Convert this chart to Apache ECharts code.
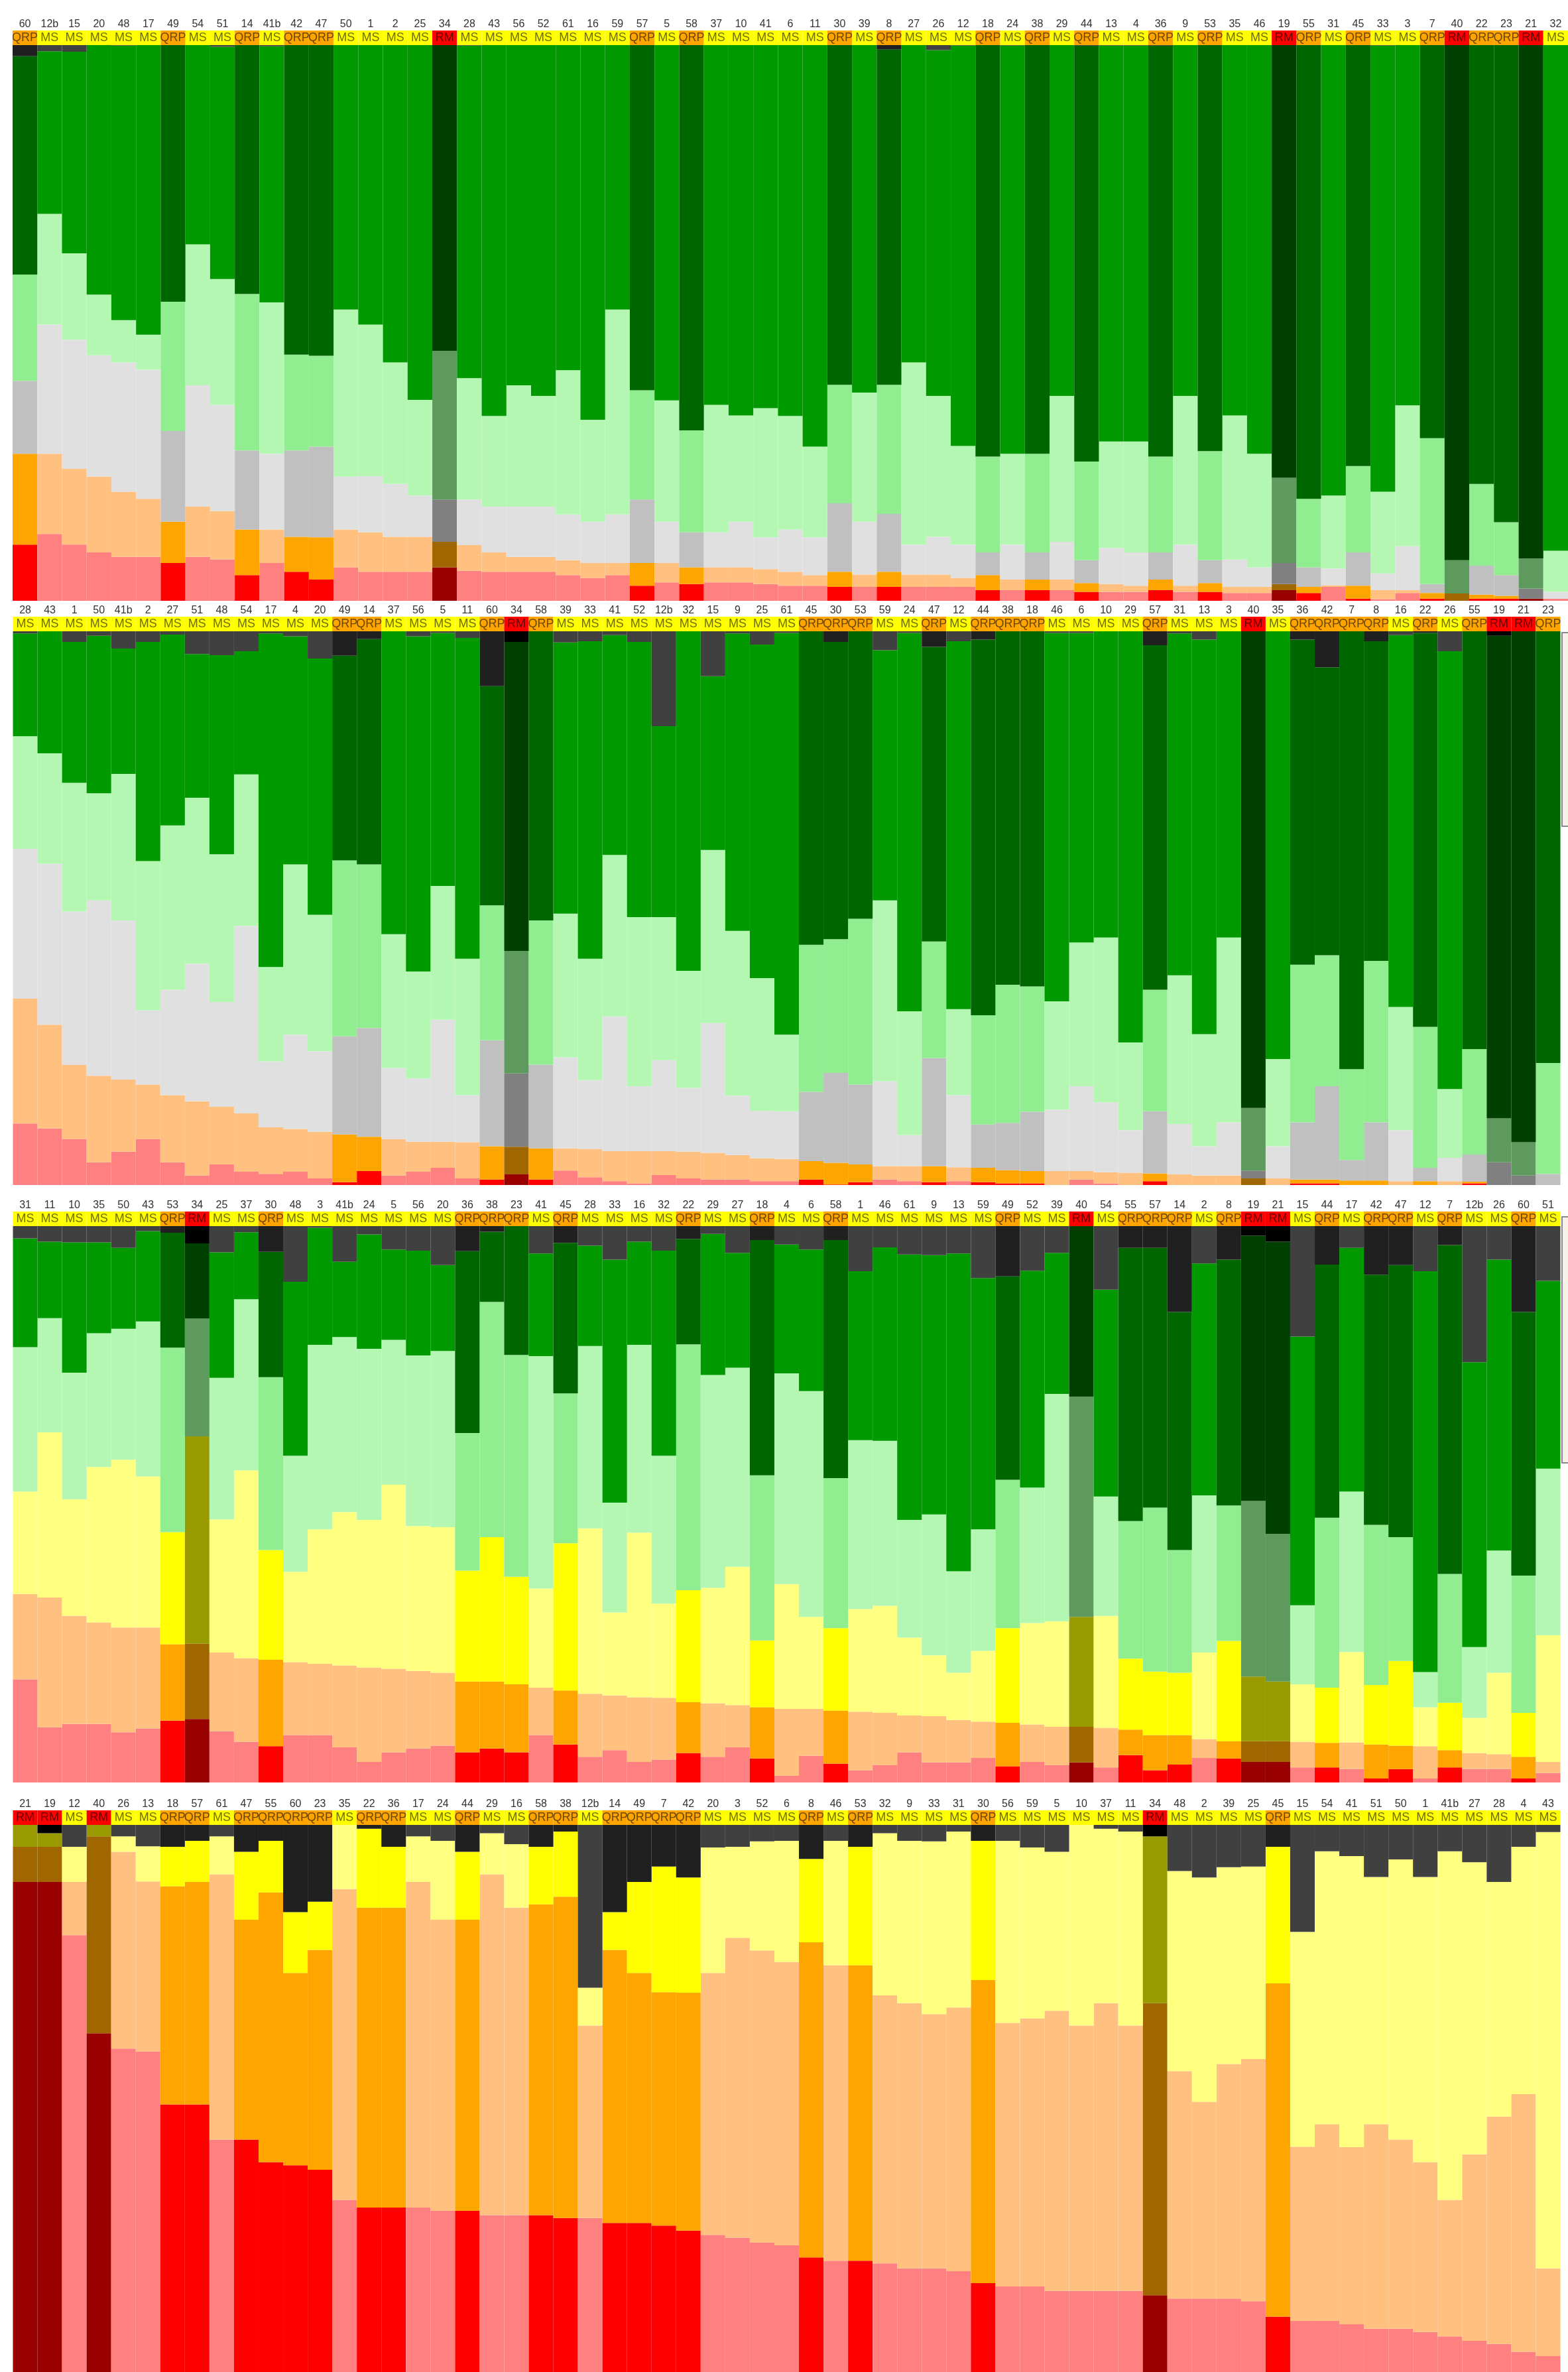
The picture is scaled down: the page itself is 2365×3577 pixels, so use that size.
<!DOCTYPE html>
<html>
<head>
<meta charset="utf-8">
<script src="https://cdn.jsdelivr.net/npm/echarts@6.0.0/dist/echarts.min.js"></script>
<style>
  html, body { margin: 0; padding: 0; background: #fff; }
  #chart { width: 2365px; height: 3577px; }
</style>
</head>
<body>
<div id="chart"></div>
<script>
// which items are QRP / RM, everything else is MS
const qrpItems = ['60','49','14','42','47','57','58','30','8','18','38','44','36','53','55','45','7','22','23'];
const rmItems = ['34','19','21','40'];

// ---- panel 1 (red / orange / gray / light green / green / no answer)
const p1Labels = ['60','12b','15','20','48','17','49','54','51','14','41b','42','47','50','1','2','25','34','28','43','56','52','61','16','59','57','5','58','37','10','41','6','11','30','39','8','27','26','12','18','24','38','29','44','13','4','36','9','53','35','46','19','55','31','45','33','3','7','40','22','23','21','32'];
const p1Red    = [10.1,12.0,10.1,8.7,7.9,7.9,6.8,7.9,7.4,4.6, 6.8,5.2,3.8,6.0,5.2,5.2,5.2,6.0,5.4,5.2, 5.2,5.2,4.6,4.1,4.6,2.7,3.3,3.0,3.3,3.3, 3.0,2.7,2.7,2.5,2.5,2.5,2.5,2.5,2.5,1.9, 1.9,1.9,1.9,1.6,1.6,1.6,1.9,1.6,1.6,1.4, 1.4,1.9,1.4,2.5,0.4,0.3,1.4,0.4,0,0.4, 0.4,0.4,0.4];
const p1Orange = [16.3,14.4,13.6,13.6,11.7,10.4,7.4,9.0,8.7,8.2, 6.0,6.3,7.6,6.8,7.1,6.3,6.3,4.6,4.6,3.5, 2.7,2.7,2.7,2.7,2.2,4.1,3.5,3.0,2.7,2.7, 2.7,2.5,1.9,2.7,2.2,2.7,2.2,2.2,1.6,2.7, 1.9,1.9,1.9,1.6,1.4,1.1,1.9,1.1,1.6,1.1, 1.1,1.1,1.1,0.3,2.3,1.6,0.5,1.0,1.3,0.7, 0.5,0,0];
const p1Gray   = [13.1,23.2,23.2,21.8,23.2,23.2,16.3,21.8,19.1,14.2, 13.6,15.5,16.3,9.5,10.1,9.5,7.4,7.6,8.2,8.2, 9.0,9.0,8.2,7.4,8.7,11.4,7.4,6.3,6.3,8.2, 5.7,7.6,6.8,12.3,9.5,10.4,5.4,6.8,6.0,4.1, 6.3,4.9,6.8,4.1,6.5,6.0,4.9,7.4,4.1,4.9, 3.5,3.8,3.5,3.0,6.0,3.0,7.9,1.6,0,5.2, 3.7,1.8,1.2];
const p1Light  = [19.1,19.9,15.5,10.9,7.6,6.3,23.2,25.3,22.6,28.1, 27.2,17.2,16.3,30.0,27.2,21.8,17.2,26.7,21.8,16.3, 21.8,19.9,25.9,18.3,36.8,19.6,21.8,18.3,22.9,19.1, 23.2,20.4,16.3,21.3,23.2,23.2,32.7,25.3,17.7,17.2, 16.3,17.7,26.2,17.7,19.1,19.9,17.2,26.7,19.6,25.9, 20.4,15.3,12.3,13.1,15.5,14.7,25.3,26.2,6.0,14.7, 9.5,5.4,7.4];
const p1Green  = [39.2,29.2,36.2,45.0,49.3,52.3,46.3,36.0,41.7,45.0, 46.0,55.9,55.9,47.7,50.4,57.2,64.0,55.0,59.7,66.8, 61.3,63.2,58.6,67.3,47.7,62.1,63.8,69.5,64.9,66.8, 65.4,66.8,72.2,61.3,62.4,60.2,57.2,62.1,71.9,74.1, 73.3,73.6,63.2,74.7,71.1,71.1,73.8,63.2,73.0,66.8, 73.6,77.9,81.7,81.2,75.7,80.1,64.9,70.8,92.9,79.0, 85.8,92.4,91.0];
const p1Top    = [2.2,1.4,1.4,0,0.3,0,0,0,0.5,0, 0.3,0,0,0,0,0,0,0,0.3,0, 0,0,0,0.3,0,0,0.3,0,0,0, 0,0,0,0,0.3,1.1,0,1.1,0.3,0, 0.3,0,0,0.3,0.3,0.3,0.3,0.3,0,0, 0,0,0,0,0,0.3,0,0,0,0, 0,0,0];

// ---- panel 2
const p2Labels = ['28','43','1','50','41b','2','27','51','48','54','17','4','20','49','14','37','56','5','11','60','34','58','39','33','41','52','12b','32','15','9','25','61','45','30','53','59','24','47','12','44','38','18','46','6','10','29','57','31','13','3','40','35','36','42','7','8','16','22','26','55','19','21','23'];
const p2Red    = [11.1,10.2,8.3,4.1,6.0,8.3,4.1,1.7,3.7,2.4, 2.0,2.4,1.2,0.5,2.5,1.7,2.4,3.1,1.2,1.0, 1.9,1.0,2.6,1.4,0.7,0.3,1.8,1.2,1.0,1.0, 0.7,0.7,1.0,0.1,0.5,1.0,0.7,0.5,0.7,0.5, 0.3,0.3,0,1.0,0.3,0,0.7,0,0,0, 0,0,0.3,0.3,0,0,0,0,0,0.3, 0,0,0];
const p2Orange = [22.5,18.7,13.4,15.6,13.0,9.8,12.1,13.4,10.4,10.5, 8.4,7.7,8.4,8.6,6.2,6.6,5.4,4.7,6.5,6.0, 5.0,5.6,4.0,5.1,5.4,5.8,4.3,4.8,4.8,4.4, 4.1,4.0,3.3,3.9,3.2,2.4,2.7,2.9,2.5,2.6, 2.4,2.2,2.5,1.5,2.0,2.2,1.4,1.9,1.7,1.7, 1.2,1.2,0.7,0.7,0.8,0.8,0.7,0.7,0.7,0.3, 0,0,0];
const p2Gray   = [27.0,29.0,27.6,31.6,28.7,13.4,19.0,24.8,18.9,33.8, 11.9,17.0,14.5,17.7,19.6,12.8,11.4,22.0,8.5,19.1, 13.2,15.1,16.4,12.4,24.3,11.7,16.4,11.5,23.4,10.7, 8.6,8.6,12.5,16.2,14.4,15.3,5.6,19.5,13.0,7.8, 8.5,10.7,11.1,15.3,12.6,7.7,11.2,9.1,5.3,9.6, 1.4,5.8,10.3,16.8,3.7,10.5,9.2,2.4,4.2,4.9, 4.1,1.7,2.0];
const p2Light  = [20.3,19.9,23.2,19.3,26.4,26.9,29.6,29.9,26.6,27.3, 17.0,30.7,24.6,31.7,29.5,24.1,19.3,24.1,24.6,24.3, 22.1,26.0,25.9,21.9,29.1,30.5,25.8,21.1,31.2,29.7, 23.9,13.8,26.5,24.1,29.9,32.6,22.3,21.0,15.5,19.7, 24.9,22.6,19.5,25.9,29.7,15.8,21.9,26.8,20.2,33.3, 11.3,15.7,28.4,23.6,16.4,29.1,22.2,25.4,12.4,19.0, 7.9,6.0,20.0];
const p2Green  = [18.5,22.3,25.4,28.4,22.6,39.5,34.4,25.9,35.9,22.2, 60.1,41.1,46.2,36.9,40.6,54.9,60.4,45.6,57.8,39.5, 55.7,52.3,48.9,57.2,39.6,49.6,34.4,61.4,31.3,53.6, 60.1,72.4,56.8,53.6,51.9,45.1,68.2,53.1,66.3,67.7, 63.9,64.2,66.4,55.8,55.3,74.2,62.1,61.6,71.1,55.3, 86.1,77.4,58.6,51.9,79.0,57.6,67.0,71.0,78.9,75.4, 87.0,92.3,77.9];
const p2Top    = [0.5,0,2.0,1.1,3.3,2.0,0.9,4.4,4.4,3.8, 0.5,1.1,5.2,4.8,1.6,0,1.0,0.5,1.4,10.0, 2.0,0,2.2,2.0,1.0,2.0,17.3,0,8.4,0.5, 2.6,0.5,0,2.0,0,3.6,0.5,3.0,2.0,1.8, 0,0,0.5,0.5,0,0,2.7,0.5,1.8,0, 0,0,1.7,6.7,0,2.0,1.0,0.5,3.8,0, 1.0,0,0];

// ---- panel 3 (yellow instead of gray)
const p3Labels = ['31','11','10','35','50','43','53','34','25','37','30','48','3','41b','24','5','56','20','36','38','23','41','45','28','33','16','32','22','29','27','18','4','6','58','1','46','61','9','13','59','49','52','39','40','54','55','57','14','2','8','19','21','15','44','17','42','47','12','7','12b','26','60','51'];
const p3Red    = [18.5,9.9,10.5,10.5,9.0,9.7,11.1,11.4,9.2,7.3, 6.5,8.5,8.5,6.3,3.7,5.4,6.1,6.6,5.4,6.1, 5.4,8.5,6.8,4.6,5.8,3.7,4.1,5.3,4.6,6.3, 4.3,1.2,4.8,3.4,2.2,3.1,5.4,3.6,3.6,4.4, 2.9,3.7,3.1,3.6,2.7,4.9,2.2,3.2,4.4,4.3, 3.7,3.7,2.7,2.7,2.4,0.7,2.4,0.7,2.7,2.4, 2.4,0.7,1.7];
const p3Orange = [15.3,23.3,19.4,18.2,18.8,18.1,13.7,13.5,14.1,15.0, 15.5,13.1,12.8,14.7,16.9,15.0,13.9,13.1,12.7,12.0, 12.2,8.5,9.7,11.3,9.8,11.6,11.1,9.1,9.6,7.6, 9.2,12.0,8.4,9.5,10.5,9.4,6.6,8.3,7.6,6.5, 7.8,6.7,6.9,6.4,7.1,4.6,6.3,5.3,3.4,3.1, 3.7,3.7,4.6,4.4,4.8,6.1,4.2,5.8,3.1,2.9, 2.7,3.9,2.0];
const p3Yellow = [18.4,29.6,20.9,27.9,30.1,27.1,20.1,37.2,23.9,33.7, 19.7,16.2,24.1,27.5,26.5,33.0,26.0,26.1,19.9,25.9, 19.3,17.8,26.4,29.7,14.9,29.5,16.9,20.1,20.7,24.8, 12.0,22.4,16.5,14.8,18.4,19.2,14.0,10.9,8.5,12.7, 17.0,18.2,18.9,19.7,20.1,12.7,11.4,11.2,15.5,18.0, 11.6,10.7,10.3,9.9,16.2,10.7,15.2,7.0,8.5,6.3, 14.6,7.9,22.7];
const p3Light  = [25.9,20.5,22.7,24.0,23.5,27.8,33.1,21.1,25.4,30.7, 31.0,20.8,33.1,31.4,30.7,26.0,30.6,31.6,24.7,42.2, 39.8,41.7,26.9,32.7,19.7,33.7,26.5,44.1,38.2,35.7, 29.6,37.8,40.5,26.9,30.3,29.6,21.1,25.3,18.2,21.8, 26.6,24.3,40.8,39.5,21.4,24.7,29.4,22.0,28.2,24.3, 31.5,26.5,14.2,30.5,28.8,28.7,22.2,6.3,23.1,12.7, 21.9,24.6,29.9];
const p3Green  = [19.5,13.7,23.4,16.3,14.5,16.2,20.6,13.5,22.5,12.0, 22.5,31.2,21.0,13.5,20.5,16.2,18.8,15.4,32.6,12.6, 23.3,18.4,27.0,18.0,43.6,18.5,36.8,18.9,25.3,20.6, 42.2,23.1,25.4,42.7,30.3,34.7,47.6,46.5,57.0,45.1, 36.5,38.9,25.3,30.8,37.1,49.0,46.6,42.7,41.6,44.1, 47.6,52.4,48.2,45.4,43.7,44.9,48.8,71.9,59.0,51.1, 52.2,47.3,33.7];
const p3Top    = [2.5,3.1,3.1,3.1,4.1,1.2,1.4,3.4,4.8,1.2, 4.8,10.2,0.5,6.7,1.7,4.4,4.6,7.1,4.6,1.2, 0,5.1,3.3,3.7,6.3,3.1,4.6,2.4,1.6,5.1, 2.7,3.5,4.6,2.7,8.4,4.1,5.2,5.4,5.1,9.5, 9.2,8.2,5.0,0,11.6,4.1,4.1,15.6,6.9,6.3, 1.8,2.9,19.9,7.1,4.1,8.8,7.1,8.4,3.5,24.6, 6.1,15.6,10.1];

// ---- panel 4 (red / orange / yellow / no answer)
const p4Labels = ['21','19','12','40','26','13','18','57','61','47','55','60','23','35','22','36','17','24','44','29','16','58','38','12b','14','49','7','42','20','3','52','6','8','46','53','32','9','33','31','30','56','59','5','10','37','11','34','48','2','39','25','45','15','54','41','51','50','1','41b','27','28','4','43'];
const p4Red    = [89.4,89.4,79.7,61.8,59.0,58.5,48.8,48.8,42.4,42.4, 38.3,37.7,36.9,31.4,30.0,30.0,30.0,29.4,29.4,28.6, 28.6,28.6,28.1,28.1,27.2,27.2,26.7,25.8,25.0,24.5, 23.6,23.1,20.9,20.3,20.3,19.8,18.9,18.9,18.4,16.2, 15.6,15.6,14.8,14.8,14.8,14.8,14.0,13.4,13.4,13.4, 12.9,10.1,9.3,9.3,8.7,7.9,7.9,7.3,6.5,5.7, 5.1,3.7,2.9];
const p4Orange = [6.4,6.4,9.7,35.9,35.9,31.0,39.8,40.6,48.4,40.1, 49.2,35.1,40.1,56.7,54.7,54.7,59.4,53.1,53.1,62.2, 56.1,56.7,58.6,35.1,49.8,45.6,42.6,43.4,47.8,54.7, 53.3,51.7,57.5,53.9,53.9,48.9,48.4,46.4,48.1,55.3, 48.1,48.9,51.1,48.4,52.5,48.4,53.3,41.5,35.9,42.8, 44.2,60.8,31.8,35.9,32.3,37.3,34.5,31.0,24.9,34.0, 41.5,47.0,16.0];
const p4Yellow = [4.1,2.5,6.4,2.2,2.8,6.4,7.2,7.5,6.9,12.4, 9.4,11.1,8.8,11.9,14.4,11.1,8.3,14.4,12.4,7.5, 11.6,10.5,11.9,6.9,6.9,16.6,22.9,21.0,22.9,16.6, 19.9,22.1,15.2,22.7,21.6,29.6,29.6,31.5,32.1,25.4, 33.2,31.2,29.0,36.8,31.8,35.4,30.4,36.5,40.9,35.9, 35.1,24.9,39.2,49.8,53.1,45.1,51.1,52.0,63.6,53.3, 42.8,45.1,79.6];
const p4Top    = [0,1.7,4.1,0,2.2,4.1,4.1,3.0,2.2,5.0, 3.0,16.0,14.1,0,0.8,4.1,2.2,3.0,5.0,1.7, 3.6,4.1,1.4,29.9,16.0,10.5,7.7,9.7,4.1,4.1, 3.0,3.0,6.4,3.0,4.1,1.7,3.0,3.0,1.4,3.0, 3.0,4.1,5.0,0,0.8,1.4,2.2,8.6,9.7,7.7, 7.7,4.1,19.6,5.0,5.8,9.7,6.4,9.7,5.0,6.9, 10.5,4.1,1.4];

const palette = {
  MS:  { red: '#FF8080', orange: '#FFC080', gray: '#E0E0E0', yellow: '#FFFF80', light: '#B3F7B3', green: '#009900', top: '#404040', band: '#FFFF00' },
  QRP: { red: '#FF0000', orange: '#FFA500', gray: '#C0C0C0', yellow: '#FFFF00', light: '#90EE90', green: '#006600', top: '#202020', band: '#FFA500' },
  RM:  { red: '#990000', orange: '#A06600', gray: '#808080', yellow: '#999900', light: '#5E9A5E', green: '#004000', top: '#000000', band: '#FF0000' }
};

function itemType(label) {
  if (rmItems.indexOf(label) >= 0) return 'RM';
  if (qrpItems.indexOf(label) >= 0) return 'QRP';
  return 'MS';
}

// narrow font if the box has it, otherwise plain Liberation Sans
function hasFont(name) {
  const ctx = document.createElement('canvas').getContext('2d');
  ctx.font = '40px monospace';
  const w = ctx.measureText('QRP41bMS').width;
  ctx.font = "40px '" + name + "', monospace";
  return ctx.measureText('QRP41bMS').width !== w;
}
const narrow = hasFont('Liberation Sans Narrow');
const fontFamily = narrow ? "'Liberation Sans Narrow', 'Liberation Sans', Arial, sans-serif" : "'Liberation Sans', Arial, sans-serif";
const typeFont = narrow ? 21 : 18;
const numFont = narrow ? 18 : 16;

const panels = [
  { labels: p1Labels, layers: [['red', p1Red], ['orange', p1Orange], ['gray', p1Gray], ['light', p1Light], ['green', p1Green], ['top', p1Top]],
    bandTop: 46, barTop: 68, barBottom: 906, left: 19, width: 2347 },
  { labels: p2Labels, layers: [['red', p2Red], ['orange', p2Orange], ['gray', p2Gray], ['light', p2Light], ['green', p2Green], ['top', p2Top]],
    bandTop: 930, barTop: 952, barBottom: 1787, left: 19.5, width: 2334 },
  { labels: p3Labels, layers: [['red', p3Red], ['orange', p3Orange], ['yellow', p3Yellow], ['light', p3Light], ['green', p3Green], ['top', p3Top]],
    bandTop: 1827, barTop: 1849, barBottom: 2688, left: 19.5, width: 2334 },
  { labels: p4Labels, layers: [['red', p4Red], ['orange', p4Orange], ['yellow', p4Yellow], ['top', p4Top]],
    bandTop: 2730, barTop: 2752, barBottom: 3577, left: 19.5, width: 2334 }
];

const grid = [], xAxis = [], yAxis = [], series = [];
panels.forEach(function (p, i) {
  const h = 2 * i, m = 2 * i + 1;
  const types = p.labels.map(itemType);

  // header band: item number above, type inside
  grid.push({ left: p.left, top: p.bandTop, width: p.width, height: p.barTop - p.bandTop });
  xAxis.push({
    type: 'category', gridIndex: h, data: p.labels, position: 'top',
    axisLine: { show: false }, axisTick: { show: false },
    axisLabel: { interval: 0, margin: 1, fontSize: numFont, color: '#333', fontFamily: fontFamily }
  });
  yAxis.push({ type: 'value', gridIndex: h, min: 0, max: 1, show: false });
  series.push({
    type: 'bar', xAxisIndex: h, yAxisIndex: h, barCategoryGap: '0%', silent: true,
    data: types.map(function (t) { return { value: 1, itemStyle: { color: palette[t].band } }; }),
    label: {
      show: true, position: 'inside', fontSize: typeFont, fontFamily: fontFamily,
      color: 'rgba(0,0,0,0.58)', formatter: function (d) { return types[d.dataIndex]; }
    }
  });

  // stacked bars
  grid.push({ left: p.left, top: p.barTop, width: p.width, height: p.barBottom - p.barTop });
  xAxis.push({ type: 'category', gridIndex: m, data: p.labels, show: false });
  yAxis.push({ type: 'value', gridIndex: m, min: 0, max: 99.8, show: false });
  p.layers.forEach(function (layer) {
    const key = layer[0], vals = layer[1];
    series.push({
      type: 'bar', name: key, stack: 'panel' + i, xAxisIndex: m, yAxisIndex: m,
      barCategoryGap: '0%', silent: true,
      data: vals.map(function (v, j) { return { value: v, itemStyle: { color: palette[types[j]][key] } }; })
    });
  });
});

const chart = echarts.init(document.getElementById('chart'), null, { renderer: 'canvas' });
chart.setOption({
  animation: false,
  backgroundColor: '#ffffff',
  grid: grid,
  xAxis: xAxis,
  yAxis: yAxis,
  series: series,
  graphic: [
    // edges of the cut-off boxes at the right side of the lower panels
    { type: 'rect', shape: { x: 2356, y: 954, width: 12, height: 292 }, style: { fill: '#F7F1EA', stroke: '#8a8a8a', lineWidth: 2 } },
    { type: 'rect', shape: { x: 2356, y: 1835, width: 12, height: 371 }, style: { fill: '#F7F1EA', stroke: '#8a8a8a', lineWidth: 2 } }
  ]
});
</script>
</body>
</html>
